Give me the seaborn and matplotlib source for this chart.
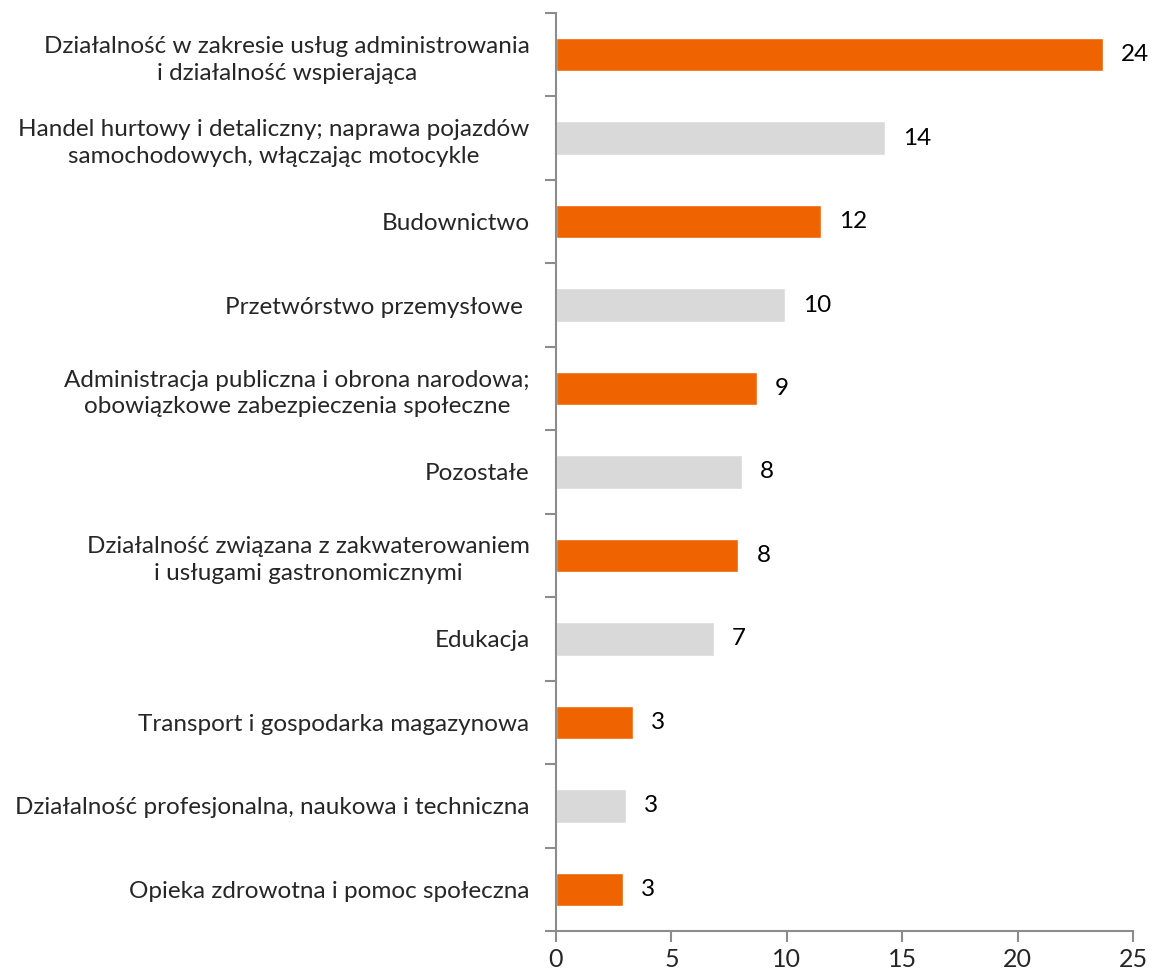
import matplotlib.pyplot as plt
import seaborn as sns
import pandas as pd
import numpy as np

sns.set_theme(style="white")
plt.rcParams['font.family'] = ['Lato', 'DejaVu Sans']

# dane
kategorie = [
    "Działalność w zakresie usług administrowania\ni działalność wspierająca",
    "Handel hurtowy i detaliczny; naprawa pojazdów\nsamochodowych, włączając motocykle",
    "Budownictwo",
    "Przetwórstwo przemysłowe ",
    "Administracja publiczna i obrona narodowa;\nobowiązkowe zabezpieczenia społeczne",
    "Pozostałe",
    "Działalność związana z zakwaterowaniem\ni usługami gastronomicznymi",
    "Edukacja",
    "Transport i gospodarka magazynowa",
    "Działalność profesjonalna, naukowa i techniczna",
    "Opieka zdrowotna i pomoc społeczna",
]
wartosci = [23.7, 14.25, 11.5, 9.92, 8.7, 8.06, 7.9, 6.85, 3.34, 3.03, 2.9]

pomaranczowy = "#F06400"
szary = "#D9D9D9"
kolor_osi = "#8C8C8C"

df = pd.DataFrame({"kategoria": kategorie, "wartosc": wartosci})
paleta = [pomaranczowy if i % 2 == 0 else szary for i in range(len(kategorie))]

fig = plt.figure(figsize=(11.53, 9.75), dpi=100)
ax = fig.add_axes([0.4822, 0.0451, 0.5005, 0.9416])

sns.barplot(data=df, y="kategoria", x="wartosc", hue="kategoria",
            palette=paleta, saturation=1, legend=False, width=0.4,
            orient="h", ax=ax)

# etykiety wartości
for i, v in enumerate(wartosci):
    ax.annotate(f"{v:.0f}", xy=(v, i), xytext=(13, 0), textcoords="offset points",
                ha="left", va="center", fontsize=17.5, color="black")

ax.set_xlim(0, 25)
ax.set_ylim(len(kategorie) - 0.5, -0.5)
ax.set_xticks(np.arange(0, 26, 5))
ax.set_xlabel("")
ax.set_ylabel("")

# podziałki między kategoriami (jak w Excelu)
ax.set_yticks(np.arange(-0.5, len(kategorie) + 0.5, 1), minor=True)
ax.tick_params(axis="y", which="major", left=False, length=0, pad=19, labelsize=17.5)
ax.tick_params(axis="y", which="minor", left=True, length=8, width=1.5,
               color=kolor_osi, direction="out")
ax.tick_params(axis="x", which="major", bottom=True, length=8, width=1.5, color=kolor_osi,
               direction="out", pad=4, labelsize=18)
for lab in ax.get_yticklabels():
    lab.set_multialignment("center")
    lab.set_linespacing(1.35)

for s in ["top", "right"]:
    ax.spines[s].set_visible(False)
for s in ["left", "bottom"]:
    ax.spines[s].set_color(kolor_osi)
    ax.spines[s].set_linewidth(1.5)
ax.grid(False)

fig.savefig("out.png", dpi=100)
